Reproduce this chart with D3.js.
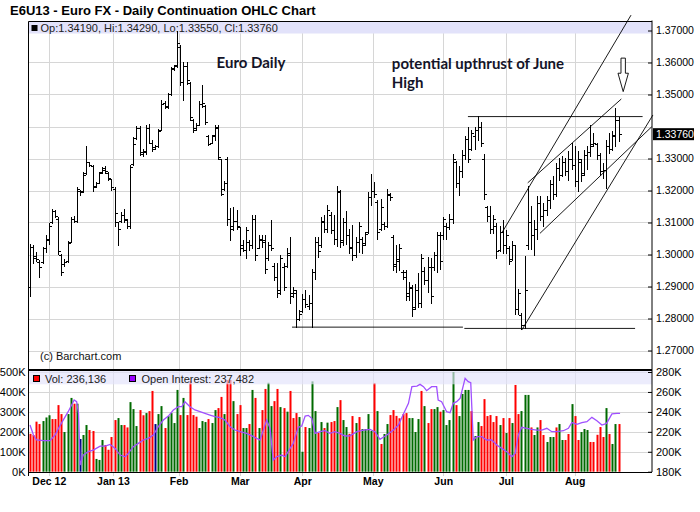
<!DOCTYPE html>
<html>
<head>
<meta charset="utf-8">
<script src="https://cdn.jsdelivr.net/npm/d3@7"></script>
<style>
  html, body { margin: 0; padding: 0; background: #fff; }
  svg { display: block; font-family: "Liberation Sans", Arial, sans-serif; }
</style>
</head>
<body>
<svg id="chart" width="700" height="512"></svg>
<script>
const MONTHS = ['Dec 12', 'Jan 13', 'Feb', 'Mar', 'Apr', 'May', 'Jun', 'Jul', 'Aug'];
const MONTH_DAY = [6, 26.5, 47.5, 67, 87, 109.5, 132, 152, 174];
const PRICE_TICKS = [1.27, 1.28, 1.29, 1.30, 1.31, 1.32, 1.33, 1.34, 1.35, 1.36, 1.37];
const VOL_TICKS = [0, 100, 200, 300, 400, 500];
const OI_TICKS = [180, 200, 220, 240, 260, 280];

// daily bars: [open, high, low, close]
const OHLC = [
  [1.2900,1.3034,1.2871,1.3025],[1.3025,1.3031,1.2972,1.2990],[1.2995,1.3008,1.2980,1.2985],[1.2975,1.2982,1.2930,1.2960],
  [1.2978,1.3024,1.2974,1.3020],[1.3020,1.3060,1.3008,1.3050],[1.3045,1.3097,1.3034,1.3090],[1.3100,1.3141,1.3097,1.3135],
  [1.3135,1.3139,1.3116,1.3120],[1.3112,1.3116,1.3003,1.3010],[1.3000,1.3003,1.2935,1.2945],[1.2970,1.2985,1.2965,1.2978],
  [1.2980,1.3043,1.2977,1.3035],[1.3040,1.3118,1.3038,1.3110],[1.3110,1.3120,1.3102,1.3105],[1.3105,1.3211,1.3102,1.3205],
  [1.3200,1.3201,1.3185,1.3195],[1.3198,1.3258,1.3196,1.3250],[1.3255,1.3339,1.3253,1.3290],[1.3288,1.3290,1.3276,1.3280],
  [1.3278,1.3279,1.3200,1.3210],[1.3215,1.3227,1.3211,1.3222],[1.3225,1.3258,1.3224,1.3255],[1.3258,1.3274,1.3255,1.3265],
  [1.3270,1.3276,1.3255,1.3262],[1.3255,1.3258,1.3232,1.3240],[1.3235,1.3236,1.3201,1.3210],[1.3205,1.3211,1.3089,1.3130],
  [1.3100,1.3102,1.3029,1.3080],[1.3105,1.3133,1.3102,1.3125],[1.3125,1.3141,1.3102,1.3110],[1.3108,1.3112,1.3084,1.3090],
  [1.3088,1.3281,1.3083,1.3275],[1.3282,1.3366,1.3281,1.3345],[1.3365,1.3402,1.3362,1.3395],[1.3395,1.3401,1.3311,1.3320],
  [1.3315,1.3331,1.3307,1.3325],[1.3320,1.3406,1.3313,1.3395],[1.3395,1.3409,1.3347,1.3350],[1.3350,1.3357,1.3323,1.3330],
  [1.3335,1.3342,1.3331,1.3340],[1.3340,1.3391,1.3336,1.3385],[1.3390,1.3482,1.3388,1.3470],[1.3475,1.3480,1.3459,1.3465],
  [1.3462,1.3505,1.3459,1.3500],[1.3500,1.3586,1.3498,1.3580],[1.3582,1.3592,1.3578,1.3588],[1.3592,1.3700,1.3586,1.3660],
  [1.3650,1.3654,1.3529,1.3540],[1.3540,1.3600,1.3482,1.3590],[1.3590,1.3600,1.3534,1.3545],[1.3535,1.3540,1.3420,1.3430],
  [1.3420,1.3422,1.3383,1.3390],[1.3395,1.3410,1.3390,1.3404],[1.3405,1.3479,1.3404,1.3470],[1.3470,1.3529,1.3461,1.3475],
  [1.3465,1.3467,1.3409,1.3415],[1.3370,1.3373,1.3342,1.3345],[1.3350,1.3375,1.3347,1.3370],[1.3372,1.3404,1.3357,1.3395],
  [1.3400,1.3404,1.3300,1.3305],[1.3298,1.3300,1.3185,1.3190],[1.3205,1.3230,1.3201,1.3225],[1.3300,1.3305,1.3092,1.3110],
  [1.3110,1.3144,1.3045,1.3090],[1.3080,1.3147,1.3076,1.3105],[1.3105,1.3139,1.3081,1.3090],[1.3085,1.3086,1.2998,1.3020],
  [1.3030,1.3045,1.3011,1.3015],[1.3015,1.3086,1.2988,1.3075],[1.3040,1.3045,1.3014,1.3030],[1.3030,1.3125,1.3019,1.3110],
  [1.3110,1.3123,1.2982,1.3000],[1.3020,1.3060,1.3019,1.3050],[1.3045,1.3060,1.3024,1.3040],[1.3045,1.3060,1.2941,1.2955],
  [1.2990,1.3040,1.2982,1.3030],[1.3030,1.3109,1.3014,1.3020],[1.2965,1.2972,1.2920,1.2930],[1.2930,1.2972,1.2868,1.2880],
  [1.2890,1.2998,1.2878,1.2990],[1.2960,1.2972,1.2889,1.2900],[1.2965,1.3019,1.2961,1.3005],[1.3000,1.3055,1.2847,1.2870],
  [1.2880,1.2899,1.2868,1.2890],[1.2880,1.2889,1.2774,1.2800],[1.2800,1.2828,1.2795,1.2815],[1.2825,1.2878,1.2821,1.2860],
  [1.2860,1.2889,1.2836,1.2845],[1.2840,1.2873,1.2831,1.2850],[1.2850,1.2956,1.2774,1.2945],[1.2945,1.3055,1.2925,1.3040],
  [1.3040,1.3055,1.2993,1.3010],[1.3030,1.3118,1.3024,1.3105],[1.3100,1.3123,1.3071,1.3080],[1.3080,1.3154,1.3069,1.3140],
  [1.3125,1.3133,1.3066,1.3075],[1.3075,1.3123,1.3034,1.3050],[1.3050,1.3215,1.3026,1.3200],[1.3195,1.3201,1.3024,1.3040],
  [1.3045,1.3113,1.3029,1.3100],[1.3100,1.3135,1.3034,1.3060],[1.3060,1.3081,1.3005,1.3020],[1.3025,1.3092,1.2982,1.3000],
  [1.3000,1.3055,1.2993,1.3040],[1.3040,1.3102,1.3008,1.3090],[1.3050,1.3055,1.3005,1.3030],[1.3035,1.3070,1.3030,1.3065],
  [1.3070,1.3196,1.3066,1.3180],[1.3180,1.3251,1.3154,1.3200],[1.3200,1.3227,1.3180,1.3190],[1.3165,1.3170,1.3050,1.3070],
  [1.3080,1.3172,1.3076,1.3150],[1.3095,1.3102,1.3081,1.3090],[1.3090,1.3206,1.3086,1.3190],[1.3185,1.3191,1.3170,1.3180],
  [1.3055,1.3060,1.2951,1.2965],[1.2970,1.3029,1.2946,1.2980],[1.2985,1.3034,1.2951,1.3020],[1.2945,1.2951,1.2925,1.2930],
  [1.2945,1.2951,1.2857,1.2870],[1.2880,1.2915,1.2857,1.2900],[1.2895,1.2904,1.2808,1.2830],[1.2835,1.2909,1.2830,1.2890],
  [1.2890,1.2941,1.2836,1.2850],[1.2850,1.3003,1.2836,1.2990],[1.2950,1.2961,1.2909,1.2920],[1.2920,1.2993,1.2883,1.2960],
  [1.2960,1.2988,1.2847,1.2870],[1.2960,1.3008,1.2951,1.3000],[1.3000,1.3071,1.2946,1.3060],[1.3060,1.3071,1.2956,1.2980],
  [1.3060,1.3118,1.3050,1.3110],[1.3090,1.3097,1.3050,1.3085],[1.3085,1.3126,1.3081,1.3110],[1.3110,1.3314,1.3097,1.3300],
  [1.3290,1.3292,1.3211,1.3225],[1.3225,1.3276,1.3185,1.3260],[1.3260,1.3326,1.3243,1.3310],[1.3310,1.3370,1.3300,1.3360],
  [1.3360,1.3399,1.3290,1.3300],[1.3330,1.3389,1.3326,1.3380],[1.3370,1.3399,1.3331,1.3390],[1.3390,1.3432,1.3357,1.3400],
  [1.3400,1.3415,1.3340,1.3350],[1.3300,1.3313,1.3172,1.3190],[1.3150,1.3151,1.3104,1.3120],[1.3120,1.3151,1.3068,1.3080],
  [1.3080,1.3125,1.3068,1.3110],[1.3090,1.3099,1.2990,1.3010],[1.3015,1.3089,1.3010,1.3070],[1.3070,1.3109,1.3005,1.3030],
  [1.3030,1.3078,1.3005,1.3060],[1.3020,1.3026,1.2969,1.2980],[1.2985,1.3042,1.2984,1.3030],[1.3030,1.3031,1.2813,1.2830],
  [1.2830,1.2891,1.2813,1.2880],[1.2810,1.2818,1.2766,1.2780],[1.2780,1.2995,1.2771,1.2890],[1.3030,1.3214,1.3016,1.3100],
  [1.3100,1.3151,1.3016,1.3060],[1.3060,1.3109,1.3000,1.3080],[1.3080,1.3182,1.3047,1.3160],[1.3160,1.3182,1.3109,1.3120],
  [1.3120,1.3161,1.3089,1.3140],[1.3140,1.3182,1.3125,1.3170],[1.3170,1.3234,1.3146,1.3220],[1.3220,1.3245,1.3172,1.3190],
  [1.3190,1.3286,1.3182,1.3270],[1.3270,1.3302,1.3234,1.3250],[1.3250,1.3307,1.3245,1.3290],[1.3290,1.3302,1.3250,1.3260],
  [1.3260,1.3323,1.3234,1.3300],[1.3300,1.3349,1.3266,1.3280],[1.3280,1.3339,1.3214,1.3230],[1.3230,1.3323,1.3198,1.3300],
  [1.3290,1.3297,1.3229,1.3250],[1.3255,1.3328,1.3250,1.3310],[1.3310,1.3339,1.3266,1.3320],[1.3320,1.3406,1.3307,1.3340],
  [1.3345,1.3380,1.3339,1.3350],[1.3345,1.3349,1.3297,1.3310],[1.3310,1.3318,1.3250,1.3260],[1.3260,1.3286,1.3240,1.3265],
  [1.3265,1.3359,1.3208,1.3340],[1.3340,1.3380,1.3318,1.3330],[1.3330,1.3385,1.3328,1.3375],[1.3370,1.3458,1.3339,1.3420],
  [1.3419,1.3429,1.3355,1.3376]
];

// volume in thousands, one per bar
const VOLUME = [
  190,
  184,251,239,254,272,283,264,264,334,289, 199,289,370,341,341,164,184,234,209,204,
  64,59,159,134,110,174,259,269,234,234, 222,349,314,229,309,283,294,304,405,239,
  289,329,219,279,294,244,410,284,370,284, 455,284,276,219,254,249,264,244,309,319,
  375,289,460,460,354,289,334,219,219,239, 410,370,219,309,415,446,329,354,415,324,
  319,301,405,269,294,274,100,224,219,453, 304,194,249,219,246,249,254,324,359,259,
  224,190,
  279,244,274,214,214,289,204,445,304,139, 189,239,284,309,280,268,289,294,269,269,
  199,264,405,329,244,314,314,324,301,309, 234,259,500,334,279,390,410,410,304,179,
  249,229,364,279,284,249,279,234,269,194, 269,244,435,289,304,385,385,222,184,222,
  259,184,149,174,174,222,239,159,159,189, 339,279,159,199,214,209,149,149,185,224,
  174,319,189,139,239,239
];
// r = down day, g = up day, n = unchanged
const VOL_DIR = ('r' +
  'rrrgggrrrr' + 'gggrgnggrr' + 'gggrrrrggr' + 'rgggrrgrrn' + 'ggrggggrgr' +
  'rrrgggrggr' + 'rgrrgrrggr' + 'grgrrggrrg' + 'rgrrrggrgg' + 'grgrgrrgrg' + 'gr' +
  'rgrggggrgr' + 'ggrrrrrrgg' + 'ggrgrrggrg' + 'gggrggggrg' + 'grrrrrrgrg' +
  'rgrrgggrgg' + 'rrgggrggrr' + 'grrgggrrrr' + 'rgrggr').split('');

// open interest in thousands, sampled along the bar axis
const OI_DAY = [0,1.1,2.1,4.3,6.4,8,9.1,10.6,12.2,13.3,14.1,14.9,15.5,16,17,18.6,20.2,22.4,24,25.6,
  27.2,28.8,30.4,31.4,33,34.6,36.2,37.8,39.4,41,42.6,44.2,45.8,47.4,48.5,49.5,51.1,52.7,54.3,55.9,
  57.5,59.1,60.7,62.3,63.9,65.5,67.1,69.2,71.4,73.5,75.6,76.7,77.7,78.8,80.4,81.5,83.1,84.1,85.7,86.8,
  87.9,88.9,90,91.1,92.7,94.2,95.8,97.4,99,100.6,102.2,
  104.4,106.5,108.6,110.2,111.8,114,116.1,117.7,119.3,120.9,122,123.6,124.6,125.7,126.7,128.3,129.9,130.4,131.5,133.1,
  134.2,135.2,136.3,137.4,139,140,140.8,141.6,142.7,144.3,145.9,147.5,149.1,150.7,152.3,153.9,155,156,157.1,158.7,
  160.3,161.9,163.5,165.1,166.7,168.3,170.4,172,173.1,174.7,176.3,177.9,179.5,181.1,182.7,184.2,185.9,187.5,188.5];
const OI_VALUE = [226.8,216.8,211.8,211.1,211.1,216.8,223.5,231.8,240.2,246.9,251.9,250.2,238.5,186.7,196.7,200.1,201.7,205.7,205.7,207.4,
  203.4,196.7,195.0,198.4,205.1,208.4,211.8,213.4,216.8,225.1,231.8,235.8,241.9,245.2,245.2,250.2,245.2,241.9,240.2,238.5,
  236.8,235.2,234.2,231.8,225.1,221.8,220.1,218.5,215.1,211.8,231.8,223.5,191.7,195.0,196.7,195.0,203.4,208.4,224.5,225.8,
  235.8,236.5,233.5,218.5,220.1,221.1,218.5,220.1,218.5,215.8,216.0,
  220.1,221.8,222.5,220.1,212.4,216.8,221.8,226.8,237.9,248.6,265.3,265.9,267.6,265.3,261.3,265.3,265.3,251.9,250.2,240.2,
  239.2,248.6,250.2,253.6,273.6,270.3,269.3,211.8,215.1,215.1,211.8,211.8,206.8,203.4,200.1,195.0,198.4,216.8,224.5,223.5,
  222.5,221.8,221.8,223.5,220.1,220.1,221.1,223.5,229.2,227.5,229.2,230.2,234.5,231.2,226.8,228.5,237.9,238.5,238.5];

// hand-drawn studies, [day, price] end points
const TREND_LINES = [
  [[150.7, 1.3067], [192.0, 1.3748]],
  [[157.1, 1.2764], [199.0, 1.3436]],
  [[159.0, 1.3224], [188.9, 1.3486]],
  [[162.9, 1.3066], [198.6, 1.3399]],
  [[139.9, 1.3431], [195.7, 1.3431]],
  [[83.7, 1.2773], [138.3, 1.2773]],
  [[138.75, 1.2769], [193.3, 1.2769]],
];
const NOTES = [
  { day: 59.6, price: 1.3583, text: 'Euro Daily' },
  { day: 115.6, price: 1.3579, text: 'potential upthrust of June' },
  { day: 115.6, price: 1.3519, text: 'High' },
];
const ARROW_TIP = [189.5, 1.3509];
const LAST_BAR = { op: '1.34190', hi: '1.34290', lo: '1.33550', cl: '1.33760', close: 1.3376 };
const LAST_VOL = '236,136';
const LAST_OI = '237,482';

const svg = d3.select('#chart');
const LEFT = 28.5;
const RIGHT = 652;
const TOP = 21.5;
const SEP = 370;
const BOTTOM = 472;
const GRID = '#d6d6d6';
const RED = '#ff0000';
const GREEN = '#006a00';
const NAVY = '#000080';
const OI_COLOR = '#a050ff';
const BAND = '#e2e2fa';

const x = d3.scaleLinear().domain([0, OHLC.length - 1]).range([30, 618.5]);
const yP = d3.scaleLinear().domain([1.27, 1.37]).range([350.5, 30.5]);
const yV = d3.scaleLinear().domain([0, 500]).range([471.7, 372]);
const yOI = d3.scaleLinear().domain([180, 280]).range([471.7, 372]);
const px = d => Math.round(x(d)) + 0.5;

svg.append('text')
  .attr('x', 10).attr('y', 15)
  .attr('font-size', 13).attr('font-weight', 700).attr('fill', '#000')
  .text('E6U13 - Euro FX - Daily Continuation OHLC Chart');

// grid
const grid = svg.append('g').attr('stroke', GRID).attr('stroke-width', 1);
PRICE_TICKS.forEach(p => {
  const yy = Math.round(yP(p)) + 0.5;
  grid.append('line').attr('x1', LEFT).attr('x2', RIGHT).attr('y1', yy).attr('y2', yy);
});
VOL_TICKS.forEach(v => {
  const yy = Math.round(yV(v)) + 0.5;
  grid.append('line').attr('x1', LEFT).attr('x2', RIGHT).attr('y1', yy).attr('y2', yy);
});
MONTH_DAY.forEach(d => {
  grid.append('line').attr('x1', px(d)).attr('x2', px(d)).attr('y1', TOP).attr('y2', BOTTOM + 4);
});

// price header band
svg.append('rect').attr('x', LEFT).attr('y', TOP).attr('width', RIGHT - LEFT).attr('height', 12).attr('fill', BAND);
svg.append('rect').attr('x', 31.5).attr('y', 25).attr('width', 6).attr('height', 6).attr('fill', '#000');
svg.append('text').attr('x', 40.5).attr('y', 31.5).attr('font-size', 11).attr('fill', '#222')
  .text(`Op:${LAST_BAR.op}, Hi:${LAST_BAR.hi}, Lo:${LAST_BAR.lo}, Cl:${LAST_BAR.cl}`);

// OHLC bars
const bars = svg.append('g').attr('stroke', '#000').attr('stroke-width', 1).attr('fill', 'none');
OHLC.forEach((b, i) => {
  const cx = px(i);
  const [o, h, l, c] = b;
  bars.append('path').attr('d',
    `M${cx},${Math.round(yP(h))}V${Math.round(yP(l)) + 1}` +
    `M${cx - 2.5},${Math.round(yP(o)) + 0.5}H${cx}` +
    `M${cx},${Math.round(yP(c)) + 0.5}H${cx + 2.5}`);
});

// studies
const studies = svg.append('g').attr('stroke', '#000').attr('stroke-width', 0.9).attr('fill', 'none');
TREND_LINES.forEach(([a, b]) => {
  studies.append('line')
    .attr('x1', x(a[0])).attr('y1', yP(a[1]))
    .attr('x2', x(b[0])).attr('y2', yP(b[1]));
});

const tipX = x(ARROW_TIP[0]);
const tipY = yP(ARROW_TIP[1]);
svg.append('path')
  .attr('transform', `translate(${tipX},${tipY})`)
  .attr('d', 'M-2.2,-33.5H2.2V-18.4H5.2L0,0L-5.2,-18.4H-2.2Z')
  .attr('fill', '#fff').attr('stroke', '#000').attr('stroke-width', 0.9);

svg.append('g').selectAll('text').data(NOTES).join('text')
  .attr('x', d => x(d.day)).attr('y', d => yP(d.price))
  .attr('font-family', 'Lato, "Noto Sans", sans-serif')
  .attr('font-size', 15).attr('font-weight', 700).attr('fill', '#141428')
  .text(d => d.text);

svg.append('text').attr('x', 40).attr('y', 360).attr('font-size', 11).attr('fill', '#111')
  .text('(c) Barchart.com');

// volume bars
svg.append('g').selectAll('rect').data(VOLUME).join('rect')
  .attr('x', (v, i) => Math.round(x(i)) - 0.5)
  .attr('width', 2)
  .attr('y', v => yV(v))
  .attr('height', v => yV(0) - yV(v))
  .attr('fill', (v, i) => (VOL_DIR[i] === 'g' ? GREEN : VOL_DIR[i] === 'n' ? NAVY : RED));

svg.append('rect').attr('x', LEFT).attr('y', SEP + 1).attr('width', RIGHT - LEFT).attr('height', 13.3)
  .attr('fill', BAND).attr('opacity', 0.65);

svg.append('path')
  .datum(OI_DAY.map((d, i) => [d, OI_VALUE[i]]))
  .attr('fill', 'none').attr('stroke', OI_COLOR).attr('stroke-width', 1.3)
  .attr('d', d3.line().x(d => x(d[0])).y(d => yOI(d[1])));

svg.append('rect').attr('x', 33.5).attr('y', 375.5).attr('width', 6).attr('height', 6)
  .attr('fill', RED).attr('stroke', '#000');
svg.append('text').attr('x', 45).attr('y', 382.5).attr('font-size', 11).attr('fill', '#222')
  .text(`Vol: ${LAST_VOL}`);
svg.append('rect').attr('x', 129.5).attr('y', 375.5).attr('width', 6).attr('height', 6)
  .attr('fill', '#9900ff').attr('stroke', '#000');
svg.append('text').attr('x', 141.5).attr('y', 382.5).attr('font-size', 11).attr('fill', '#222')
  .text(`Open Interest: ${LAST_OI}`);

// frame
const frame = svg.append('g').attr('stroke', '#000').attr('fill', 'none');
frame.append('path').attr('stroke-width', 1)
  .attr('d', `M${LEFT},${TOP}H${RIGHT}M${LEFT},${TOP}V${BOTTOM + 4}M${RIGHT},${TOP - 1}V${BOTTOM}`);
frame.append('line').attr('stroke-width', 2).attr('x1', LEFT).attr('x2', RIGHT).attr('y1', SEP).attr('y2', SEP);
frame.append('line').attr('stroke-width', 1).attr('x1', LEFT).attr('x2', RIGHT)
  .attr('y1', BOTTOM + 0.5).attr('y2', BOTTOM + 0.5);

// axes
const styleAxis = g => {
  g.select('.domain').remove();
  g.selectAll('text').attr('fill', '#000').attr('font-family', '"Liberation Sans", Arial, sans-serif');
  g.selectAll('line').attr('stroke', '#000');
};

svg.append('g')
  .attr('transform', `translate(${RIGHT},0)`)
  .call(d3.axisRight(yP)
    .tickValues(PRICE_TICKS.filter(p => Math.abs(yP(p) - yP(LAST_BAR.close)) > 10))
    .tickFormat(d3.format('.5f'))
    .tickSizeInner(-4).tickSizeOuter(0).tickPadding(4))
  .call(styleAxis)
  .call(g => g.selectAll('text').attr('font-size', 10.5));

svg.append('g')
  .attr('transform', `translate(${LEFT},0)`)
  .call(d3.axisLeft(yV).tickValues(VOL_TICKS).tickFormat(d => `${d}K`).tickSize(0).tickPadding(3))
  .call(styleAxis)
  .call(g => g.selectAll('text').attr('font-size', 11));

svg.append('g')
  .attr('transform', `translate(${RIGHT},0)`)
  .call(d3.axisRight(yOI).tickValues(OI_TICKS).tickFormat(d => `${d}K`)
    .tickSizeInner(-4).tickSizeOuter(0).tickPadding(4))
  .call(styleAxis)
  .call(g => g.selectAll('text').attr('font-size', 11));

svg.append('g')
  .attr('transform', `translate(0,${BOTTOM})`)
  .call(d3.axisBottom(x).tickValues(MONTH_DAY).tickFormat((d, i) => MONTHS[i]).tickSize(0).tickPadding(5.5))
  .call(styleAxis)
  .call(g => g.selectAll('text').attr('font-size', 10.5).attr('font-weight', 700));

// last price marker
const lastY = yP(LAST_BAR.close);
svg.append('rect').attr('x', RIGHT + 1).attr('y', lastY - 6).attr('width', 41).attr('height', 12).attr('fill', '#000');
svg.append('text').attr('x', RIGHT + 4).attr('y', lastY + 4).attr('font-size', 10.5).attr('fill', '#fff')
  .text(LAST_BAR.cl);
</script>
</body>
</html>
